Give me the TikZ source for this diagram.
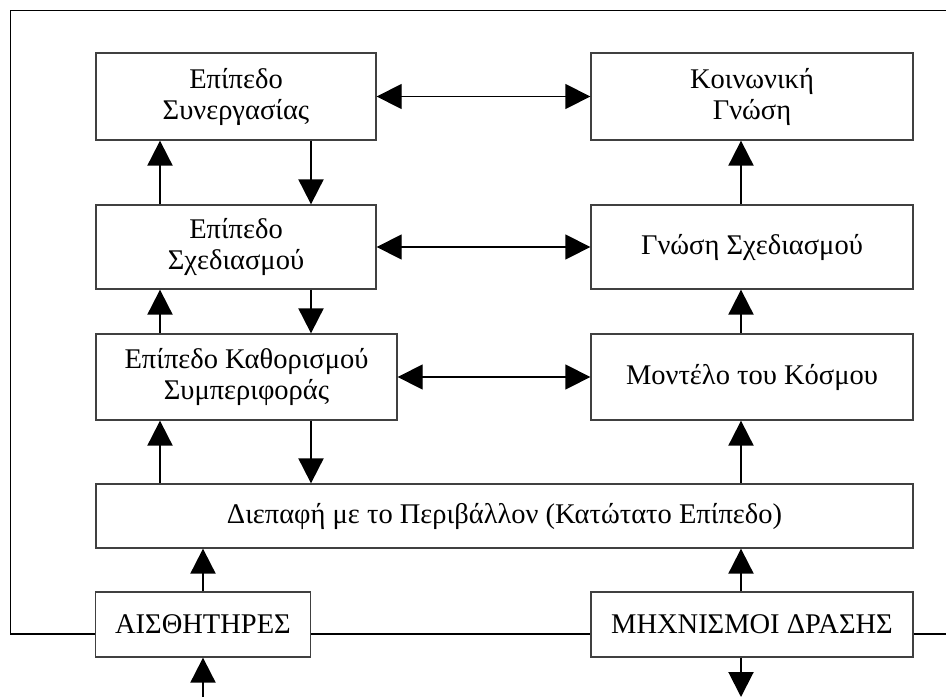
\documentclass[tikz,border=0pt]{standalone}
\usepackage{fontspec}
\setmainfont{Liberation Serif}
\usetikzlibrary{arrows.meta}
\begin{document}
\begin{tikzpicture}[x=1pt,y=-1pt,
  box/.style={draw=black!75, line width=1.3pt, inner sep=0pt, align=center,
    font=\fontsize{28.5}{31}\selectfont},
  uplink/.style={-{Triangle[length=25pt,width=25pt]}, line width=2pt},
  hlink/.style={{Triangle[length=25pt,width=25pt]}-{Triangle[length=25pt,width=25pt]}, line width=1.3pt},
  frame/.style={line width=1.1pt}]
\useasboundingbox (0,0) rectangle (946,697);

% layers on the left
\node[box, minimum width=280pt, minimum height=87pt] (coop) at (236,96.5) {Επίπεδο\\Συνεργασίας};
\node[box, minimum width=280pt, minimum height=84pt] (plan) at (236,247) {Επίπεδο\\Σχεδιασμού};
\node[box, minimum width=301pt, minimum height=86pt] (behav) at (246.5,377) {Επίπεδο Καθορισμού\\Συμπεριφοράς};

% knowledge on the right
\node[box, minimum width=322pt, minimum height=87pt] (social) at (752,96.5) {Κοινωνική\\Γνώση};
\node[box, minimum width=322pt, minimum height=84pt] (design) at (752,247) {Γνώση Σχεδιασμού};
\node[box, minimum width=322pt, minimum height=86pt] (world) at (752,377) {Μοντέλο του Κόσμου};

% lowest layer and devices
\node[box, minimum width=817pt, minimum height=64pt] (iface) at (504.5,516) {Διεπαφή με το Περιβάλλον (Κατώτατο Επίπεδο)};
\node[box, minimum width=215pt, minimum height=65pt] (sensors) at (203,624.5) {ΑΙΣΘΗΤΗΡΕΣ};
\node[box, minimum width=322pt, minimum height=65pt] (actuators) at (752,624.5) {ΜΗΧΝΙΣΜΟΙ ΔΡΑΣΗΣ};

% columns of the vertical links
\coordinate (lx) at (160,0);
\coordinate (rx) at (311,0);
\coordinate (kx) at (741,0);
\coordinate (bot) at (0,697);

% upward and downward links of the layers
\draw[uplink] (plan.north -| lx) -- (coop.south -| lx);
\draw[uplink] (coop.south -| rx) -- (plan.north -| rx);
\draw[uplink] (behav.north -| lx) -- (plan.south -| lx);
\draw[uplink] (plan.south -| rx) -- (behav.north -| rx);
\draw[uplink] (iface.north -| lx) -- (behav.south -| lx);
\draw[uplink] (behav.south -| rx) -- (iface.north -| rx);

% knowledge column
\draw[uplink] (design.north -| kx) -- (social.south -| kx);
\draw[uplink] (world.north -| kx) -- (design.south -| kx);
\draw[uplink] (iface.north -| kx) -- (world.south -| kx);

% layers and knowledge
\draw[hlink] (coop.east) -- (social.west);
\draw[hlink] (plan.east) -- (design.west);
\draw[hlink] (behav.east) -- (world.west);

% devices
\draw[uplink] (sensors.north) -- (iface.south -| sensors.north);
\draw[uplink] (sensors.south |- bot) -- (sensors.south);
\draw[uplink] (actuators.north -| kx) -- (iface.south -| kx);
\draw[uplink] (actuators.south -| kx) -- (bot -| kx);

% surrounding frame
\coordinate (fbl) at (10.7,634);
\coordinate (ftl) at (10.7,10.7);
\coordinate (ftr) at (946,10.7);
\coordinate (fbr) at (946,634);
\draw[frame] (sensors.west |- fbl) -- (fbl) -- (ftl) -- (ftr);
\draw[frame] (sensors.east |- fbl) -- (actuators.west |- fbl);
\draw[frame] (actuators.east |- fbl) -- (fbr);
\end{tikzpicture}
\end{document}
